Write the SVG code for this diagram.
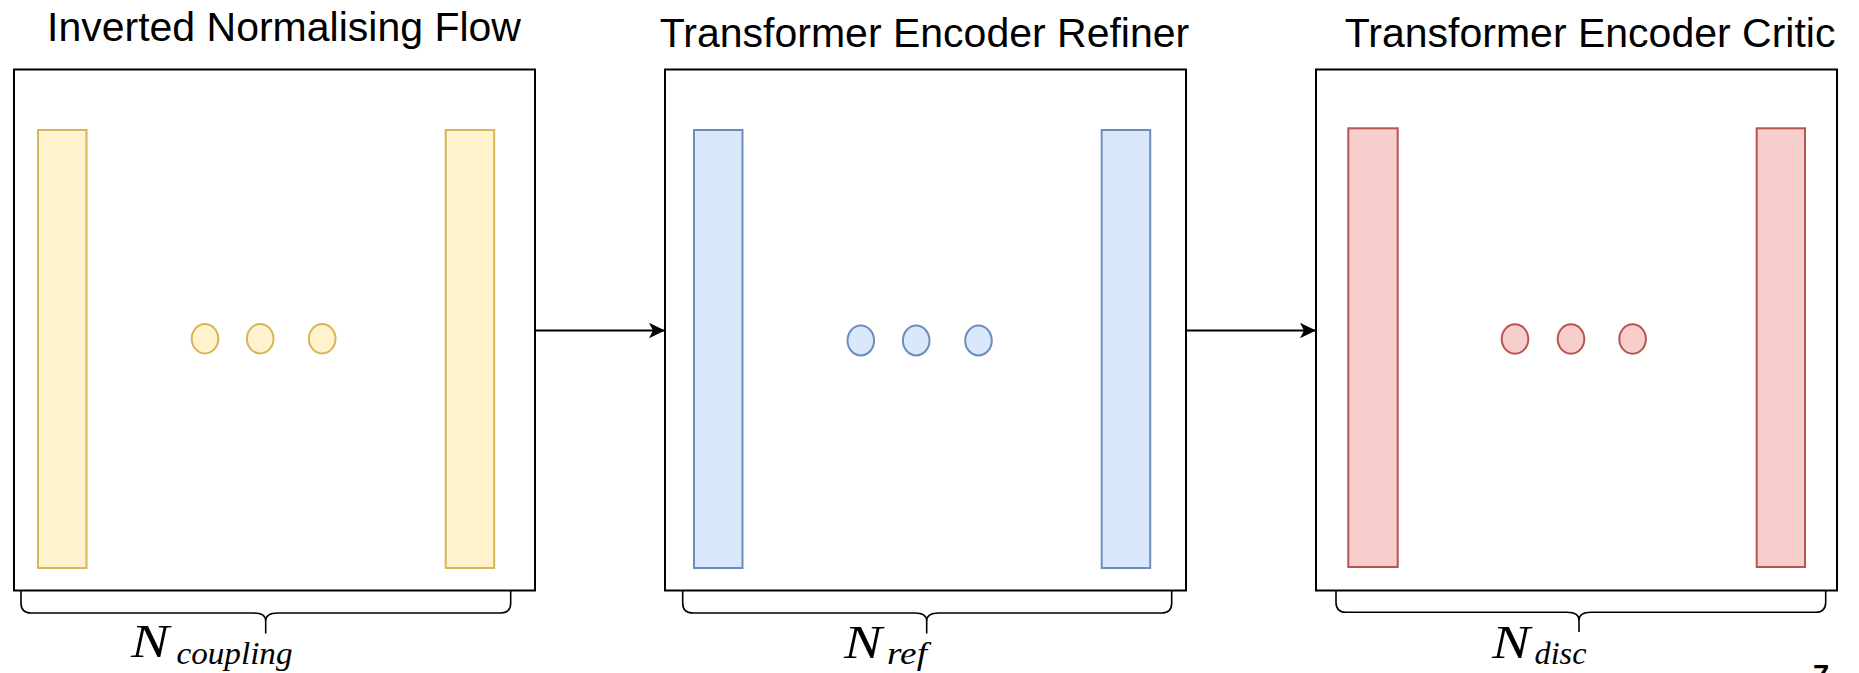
<svg xmlns="http://www.w3.org/2000/svg" width="1859" height="673" viewBox="0 0 1859 673">
  <style>
    .title { font-family: "Liberation Sans", Arial, sans-serif; font-size: 41px; fill: #000; }
    .box { fill: #ffffff; stroke: #000; stroke-width: 2; }
    .y { fill: #fff2cc; stroke: #d6b656; stroke-width: 2; }
    .b { fill: #dae8fc; stroke: #6c8ebf; stroke-width: 2; }
    .r { fill: #f8cecc; stroke: #b85450; stroke-width: 2; }
    .brace { fill: none; stroke: #000; stroke-width: 1.6; }
    .edge { fill: none; stroke: #000; stroke-width: 2; }
    .mN { font-family: "Liberation Serif", "Times New Roman", serif; font-style: italic; font-size: 46px; fill: #000; }
    .mS { font-family: "Liberation Serif", "Times New Roman", serif; font-style: italic; font-size: 31px; fill: #000; }
    .page { font-family: "Liberation Sans", Arial, sans-serif; font-weight: bold; font-size: 29px; fill: #000; }
  </style>
  <defs>
    <marker id="arrow" markerUnits="userSpaceOnUse" viewBox="0 0 16 16" markerWidth="16" markerHeight="16" refX="16" refY="8" orient="auto">
      <path d="M0,0.3 L16,8 L0,15.7 L4,8 Z" fill="#000"/>
    </marker>
  </defs>
  <rect width="1859" height="673" fill="#ffffff"/>

  <g id="flow">
    <text class="title" x="47" y="41">Inverted Normalising Flow</text>
    <rect class="box" x="14" y="69.5" width="521" height="521"/>
    <rect class="y" x="38" y="130" width="48.5" height="438"/>
    <rect class="y" x="445.7" y="130" width="48.5" height="438"/>
    <ellipse class="y" cx="205" cy="338.7" rx="13.3" ry="14.7"/>
    <ellipse class="y" cx="260.2" cy="338.7" rx="13.3" ry="14.7"/>
    <ellipse class="y" cx="322.2" cy="338.7" rx="13.3" ry="14.7"/>
    <path class="brace" d="M21,591 V603 Q21,613 31,613 H253.7 Q265.7,613 265.7,621 V633.5 M265.7,621 Q265.7,613 277.7,613 H500.7 Q510.7,613 510.7,603 V591"/>
    <text class="mN" x="131" y="657.3" textLength="38" lengthAdjust="spacingAndGlyphs">N</text>
    <text class="mS" x="176.5" y="664" textLength="116" lengthAdjust="spacingAndGlyphs">coupling</text>
  </g>

  <g id="refiner">
    <text class="title" x="659.8" y="47.3">Transformer Encoder Refiner</text>
    <rect class="box" x="665" y="69.5" width="521" height="521"/>
    <rect class="b" x="694" y="130" width="48.5" height="438"/>
    <rect class="b" x="1101.7" y="130" width="48.5" height="438"/>
    <ellipse class="b" cx="860.8" cy="340.5" rx="13.3" ry="14.9"/>
    <ellipse class="b" cx="916.2" cy="340.5" rx="13.3" ry="14.9"/>
    <ellipse class="b" cx="978.5" cy="340.5" rx="13.3" ry="14.9"/>
    <path class="brace" d="M682.7,591 V603 Q682.7,613 692.7,613 H914.7 Q926.7,613 926.7,621 V633.5 M926.7,621 Q926.7,613 938.7,613 H1161.7 Q1171.7,613 1171.7,603 V591"/>
    <text class="mN" x="844" y="658" textLength="38" lengthAdjust="spacingAndGlyphs">N</text>
    <text class="mS" x="887" y="664" textLength="40" lengthAdjust="spacingAndGlyphs">ref</text>
  </g>

  <g id="critic">
    <text class="title" x="1344.8" y="47.3">Transformer Encoder Critic</text>
    <rect class="box" x="1316" y="69.5" width="521" height="521"/>
    <rect class="r" x="1348.3" y="128.3" width="49.4" height="438.7"/>
    <rect class="r" x="1756.7" y="128.3" width="48.3" height="438.7"/>
    <ellipse class="r" cx="1515" cy="339" rx="13.3" ry="14.7"/>
    <ellipse class="r" cx="1571" cy="339" rx="13.3" ry="14.7"/>
    <ellipse class="r" cx="1632.6" cy="339" rx="13.3" ry="14.7"/>
    <path class="brace" d="M1336,591 V602.3 Q1336,612.3 1346,612.3 H1567 Q1579,612.3 1579,620.3 V632 M1579,620.3 Q1579,612.3 1591,612.3 H1815.7 Q1825.7,612.3 1825.7,602.3 V591"/>
    <text class="mN" x="1492" y="658.3" textLength="38" lengthAdjust="spacingAndGlyphs">N</text>
    <text class="mS" x="1534.5" y="664" textLength="52" lengthAdjust="spacingAndGlyphs">disc</text>
  </g>

  <g id="connectors">
    <line class="edge" x1="535" y1="330.5" x2="665" y2="330.5" marker-end="url(#arrow)"/>
    <line class="edge" x1="1186" y1="330.5" x2="1316" y2="330.5" marker-end="url(#arrow)"/>
  </g>

  <text class="page" x="1813" y="685">7</text>
</svg>
